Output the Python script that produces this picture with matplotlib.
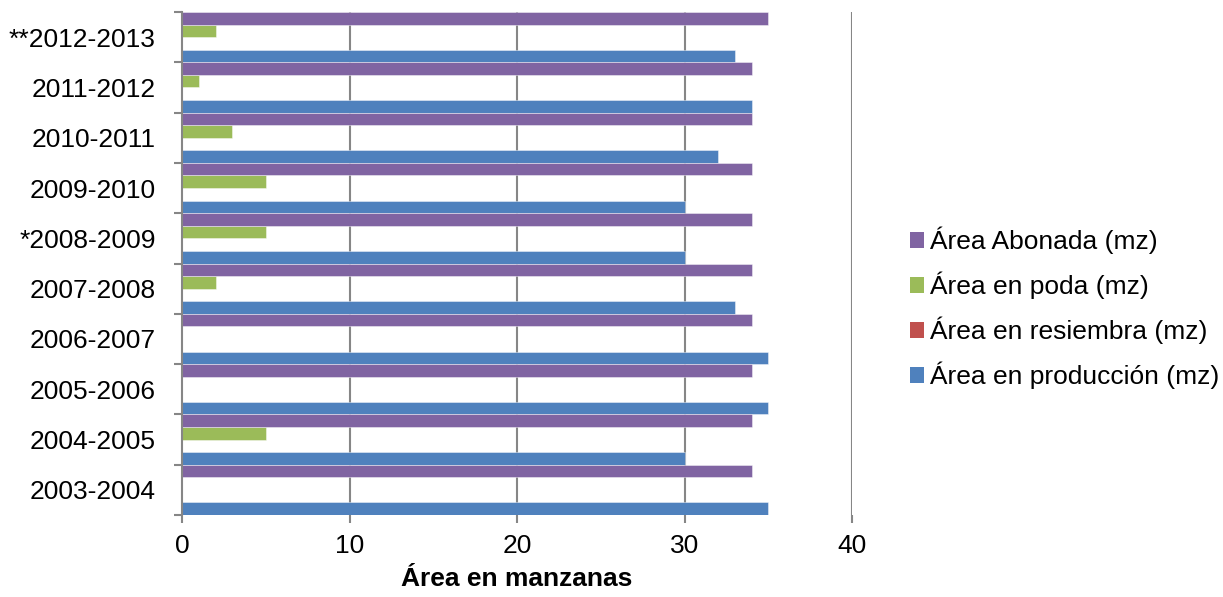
import matplotlib
matplotlib.use("Agg")
import matplotlib.pyplot as plt
import numpy as np
from matplotlib.patches import Patch

plt.rcParams['font.family'] = ['Liberation Sans', 'DejaVu Sans']

categories = ["2003-2004", "2004-2005", "2005-2006", "2006-2007", "2007-2008",
              "*2008-2009", "2009-2010", "2010-2011", "2011-2012", "**2012-2013"]
produccion = [35, 30, 35, 35, 33, 30, 30, 32, 34, 33]
resiembra = [0, 0, 0, 0, 0, 0, 0, 0, 0, 0]
poda = [0, 5, 0, 0, 2, 5, 5, 3, 1, 2]
abonada = [34, 34, 34, 34, 34, 34, 34, 34, 34, 35]

series = [
    ("Área en producción (mz)", produccion, "#4F81BD"),
    ("Área en resiembra (mz)", resiembra, "#C0504D"),
    ("Área en poda (mz)", poda, "#9BBB59"),
    ("Área Abonada (mz)", abonada, "#8064A2"),
]

FS = 19

fig = plt.figure(figsize=(12.23, 5.97), dpi=100)
ax = fig.add_axes([182/1223, 1-515/597, (852-182)/1223, (515-12)/597])

y = np.arange(len(categories))
h = 0.25
for k, (name, vals, col) in enumerate(series):
    ax.barh(y + (k - 1.5) * h, vals, height=h, color=col,
            edgecolor=(1, 1, 1, 0.5), linewidth=0.6, zorder=3)

ax.set_xlim(0, 40)
ax.set_ylim(-0.5, len(categories) - 0.5)
ax.set_xticks([0, 10, 20, 30, 40])
ax.set_yticks(y)
ax.set_yticklabels(categories)
ax.set_yticks(np.arange(-0.5, len(categories)), minor=True)
ax.tick_params(axis='y', which='major', length=0, pad=19, labelsize=FS)
ax.tick_params(axis='y', which='minor', length=6, width=1.5, color="#868686", direction='out')
ax.tick_params(axis='x', length=6, width=1.5, color="#868686", labelsize=FS, pad=8)

for s in ['top', 'bottom', 'right']:
    ax.spines[s].set_visible(False)
ax.spines['left'].set_color("#868686")
ax.spines['left'].set_linewidth(1.5)
ax.spines['left'].set_zorder(4)

for xv in [10, 20, 30, 40]:
    ax.axvline(xv, color="#868686", linewidth=1.5, zorder=1)

ax.set_xlabel("Área en manzanas", fontsize=FS, fontweight='bold', labelpad=6)

handles = [Patch(facecolor=c, edgecolor='none', label=n) for n, v, c in series[::-1]]
fig.legend(handles=handles, loc='center left', bbox_to_anchor=(910/1223, 1-308/597),
           frameon=False, fontsize=FS, handlelength=0.53, handleheight=0.53,
           handletextpad=0.23, labelspacing=0.66, borderpad=0, borderaxespad=0)

fig.savefig("out.png", dpi=100)
